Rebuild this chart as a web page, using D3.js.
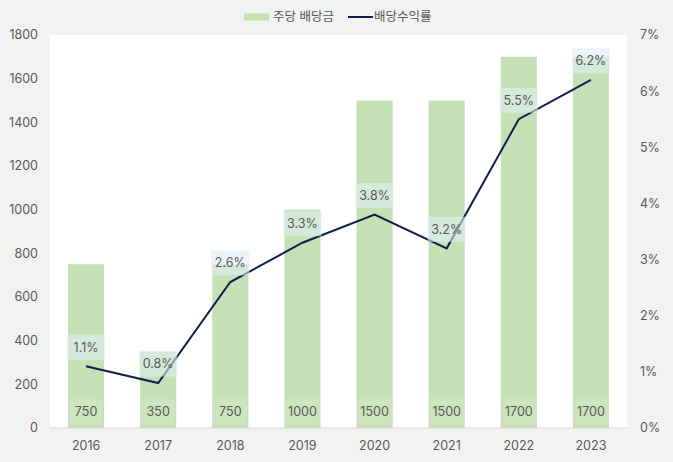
<!DOCTYPE html>
<html><head><meta charset="utf-8">
<script src="https://cdn.jsdelivr.net/npm/d3@7"></script>
<style>
body{margin:0;background:#f2f2f2;}
svg{display:block;font-family:Inter,"Noto Sans CJK KR","Noto Sans",sans-serif;}
</style></head>
<body><svg id="c" width="673" height="462"></svg>
<script>
const years = ["2016","2017","2018","2019","2020","2021","2022","2023"];
const dividends = [750,350,750,1000,1500,1500,1700,1700];
const yields = [1.1,0.8,2.6,3.3,3.8,3.2,5.5,6.2];
const leftTicks = [0,200,400,600,800,1000,1200,1400,1600,1800];
const rightTicks = [0,1,2,3,4,5,6,7];
const seriesNames = ["주당 배당금","배당수익률"];

const svg = d3.select("#c");
const W=673,H=462;
const m={l:50,r:46,t:35,b:34};
const pw=W-m.l-m.r, ph=H-m.t-m.b;
svg.append("rect").attr("width",W).attr("height",H).attr("fill","#f2f2f2");
const g = svg.append("g").attr("transform",`translate(${m.l},${m.t})`);
g.append("rect").attr("width",pw).attr("height",ph).attr("fill","#fff");

const x = d3.scaleBand().domain(years).range([0,pw]).paddingInner(0.5).paddingOuter(0.25);
const yL = d3.scaleLinear().domain([0,1800]).range([ph,0]);
const yR = d3.scaleLinear().domain([0,7]).range([ph,0]);
const txt="#595959";
const fs=12.5;

// bars
g.selectAll(".bar").data(years).join("rect")
  .attr("x",d=>x(d)).attr("width",x.bandwidth())
  .attr("y",(d,i)=>yL(dividends[i])).attr("height",(d,i)=>ph-yL(dividends[i]))
  .attr("fill","#c5e0b4");

// bar value labels
const bl = g.selectAll(".bl").data(years).join("g")
  .attr("transform",d=>`translate(${x(d)+x.bandwidth()/2},${ph-16})`);
bl.append("rect").attr("x",-17).attr("y",-13).attr("width",34).attr("height",26)
  .attr("fill","rgba(255,255,255,0.15)");
bl.append("text").attr("text-anchor","middle").attr("dy","0.35em")
  .attr("font-size",fs).attr("fill",txt).text((d,i)=>dividends[i]);

// line
const line = d3.line().x((d,i)=>x(years[i])+x.bandwidth()/2).y(d=>yR(d));
g.append("path").datum(yields).attr("d",line).attr("fill","none")
  .attr("stroke","#0e1f4d").attr("stroke-width",2);

// line labels
const ll = g.selectAll(".ll").data(yields).join("g")
  .attr("transform",(d,i)=>`translate(${x(years[i])+x.bandwidth()/2},${yR(d)-19})`);
ll.append("rect").attr("x",-19).attr("y",-12.5).attr("width",38).attr("height",25)
  .attr("fill","rgba(225,237,245,0.6)");
ll.append("text").attr("text-anchor","middle").attr("dy","0.35em")
  .attr("font-size",fs).attr("fill",txt).text(d=>d.toFixed(1)+"%");

// x axis
g.append("line").attr("x1",0).attr("x2",pw).attr("y1",ph).attr("y2",ph)
  .attr("stroke","#d9d9d9").attr("stroke-width",1);
g.selectAll(".xl").data(years).join("text")
  .attr("x",d=>x(d)+x.bandwidth()/2).attr("y",ph+18).attr("dy","0.35em")
  .attr("text-anchor","middle").attr("font-size",fs).attr("fill",txt).text(d=>d);

// left axis
g.selectAll(".yl").data(leftTicks).join("text")
  .attr("x",-12).attr("y",d=>yL(d)).attr("dy","0.35em")
  .attr("text-anchor","end").attr("font-size",fs).attr("fill",txt).text(d=>d);
// right axis
g.selectAll(".yr").data(rightTicks).join("text")
  .attr("x",pw+13).attr("y",d=>yR(d)).attr("dy","0.35em")
  .attr("text-anchor","start").attr("font-size",fs).attr("fill",txt).text(d=>d+"%");

// legend
const lg = svg.append("g").attr("transform","translate(244,17)");
lg.append("rect").attr("x",0).attr("y",-3.5).attr("width",25).attr("height",7).attr("fill","#c5e0b4");
lg.append("text").attr("x",29).attr("dy","0.35em").attr("font-size",fs).attr("fill",txt).text(seriesNames[0]);
lg.append("line").attr("x1",104).attr("x2",129).attr("stroke","#0e1f4d").attr("stroke-width",2);
lg.append("text").attr("x",130).attr("dy","0.35em").attr("font-size",fs).attr("fill",txt).text(seriesNames[1]);
</script></body></html>
